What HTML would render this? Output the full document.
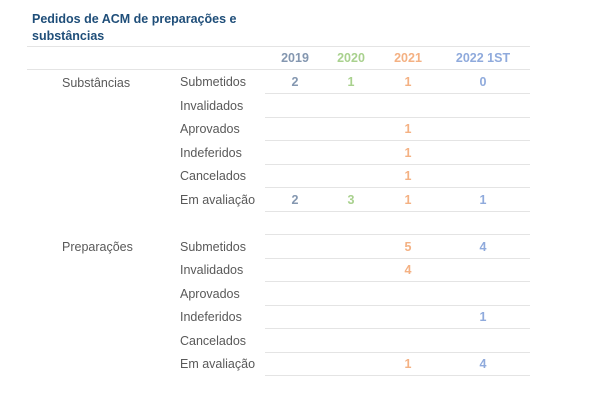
<!DOCTYPE html>
<html><head><meta charset="utf-8"><style>
body{margin:0;width:601px;height:415px;background:#fff;position:relative;font-family:"Liberation Sans",sans-serif;overflow:hidden}
.t{position:absolute;white-space:nowrap;line-height:14px}
.ttl{left:32px;font-size:12.5px;font-weight:bold;color:#1f4e79}
.l{position:absolute;height:1px;background:#e4e4e4}
.lab{font-size:12.5px;color:#595959}
.n{font-size:12.5px;font-weight:bold;width:40px;text-align:center;margin-left:-20px}
.c1{color:#8497b0}.c2{color:#a9d18e}.c3{color:#f4b183}.c4{color:#8faadc}
</style></head><body>
<div class="t ttl" style="top:12px">Pedidos de ACM de preparações e</div>
<div class="t ttl" style="top:29px">substâncias</div>
<div class="l" style="left:27px;width:503px;top:46px"></div>
<div class="l" style="left:27px;width:503px;top:69px"></div>
<div class="t n c1" style="left:295px;top:51px">2019</div>
<div class="t n c2" style="left:351px;top:51px">2020</div>
<div class="t n c3" style="left:408px;top:51px">2021</div>
<div class="t n c4" style="left:483px;top:51px;width:80px;margin-left:-40px">2022 1ST</div>
<div class="t lab" style="left:62px;top:76px">Substâncias</div>
<div class="t lab" style="left:62px;top:240px">Preparações</div>
<div id="rows"></div>
<script>
var names=["Submetidos","Invalidados","Aprovados","Indeferidos","Cancelados","Em avaliação"];
var vals=[[2,1,1,0],[,,,],[,,1,],[,,1,],[,,1,],[2,3,1,1],null,[,,5,4],[,,4,],[,,,],[,,,1],[,,,],[,,1,4]];
var cx=[295,351,408,483],h="";
for(var i=0;i<13;i++){var line=93+i*23.5;var y=line-18;
h+='<div class="l" style="left:265px;width:265px;top:'+Math.round(line)+'px"></div>';
if(vals[i]){var nm=names[i<6?i:i-7];
h+='<div class="t lab" style="left:180px;top:'+Math.round(y)+'px">'+nm+'</div>';
for(var j=0;j<4;j++){if(vals[i][j]!==undefined)h+='<div class="t n c'+(j+1)+'" style="left:'+cx[j]+'px;top:'+Math.round(y)+'px">'+vals[i][j]+'</div>';}}}
document.getElementById("rows").innerHTML=h;
</script>
</body></html>
